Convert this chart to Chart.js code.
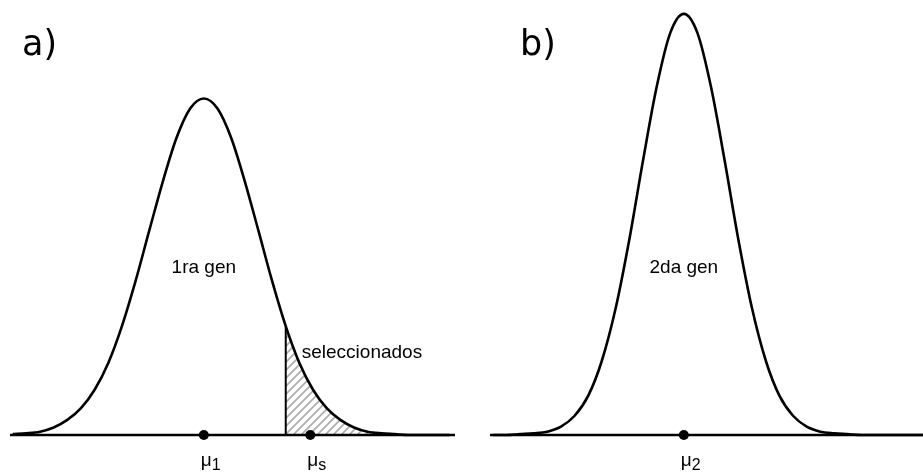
<!DOCTYPE html>
<html>
<head>
<meta charset="utf-8">
<script src="https://cdn.jsdelivr.net/npm/chart.js@4.4.1/dist/chart.umd.min.js"></script>
<style>
    html, body { margin: 0; padding: 0; background: #fff; }
    #wrap { position: relative; width: 923px; height: 473px; overflow: hidden; }
    canvas { position: absolute; top: 0; }
    #chartA { left: 0; }
    #chartB { left: 480px; }
</style>
</head>
<body>
<div id="wrap">
    <canvas id="chartA" width="461" height="473"></canvas>
    <canvas id="chartB" width="461" height="473"></canvas>
</div>
<script>
// trait value (in units of the 1st generation spread)
const xGrid = [-3.5, -3.25, -3, -2.75, -2.5, -2.25, -2, -1.75, -1.5, -1.25, -1, -0.75, -0.5, -0.25,
    0, 0.25, 0.5, 0.75, 1, 1.25, 1.5, 1.75, 2, 2.25, 2.5, 2.75, 3, 3.25, 3.5, 3.75, 4, 4.25, 4.5];

// curve heights for each generation
const gen1Density = [0.001, 0.002, 0.004, 0.009, 0.018, 0.032, 0.054, 0.086, 0.130, 0.184, 0.244, 0.303, 0.355, 0.390,
    0.402, 0.390, 0.355, 0.303, 0.244, 0.184, 0.130, 0.086, 0.054, 0.032, 0.018, 0.009, 0.004, 0.002, 0.001, 0, 0, 0, 0];
const gen2Density = [0, 0, 0.001, 0.002, 0.004, 0.010, 0.023, 0.047, 0.089, 0.151, 0.233, 0.327, 0.415, 0.480,
    0.503, 0.480, 0.415, 0.327, 0.233, 0.151, 0.089, 0.047, 0.023, 0.010, 0.004, 0.002, 0.001, 0, 0, 0, 0, 0, 0];

const selectionCutoff = 1.5;
const gen1Markers = [0, 1.95];
const gen1MarkerSubs = ["1", "s"];
const gen2Markers = [0];
const gen2MarkerSubs = ["2"];

const panelTitles = ["a)", "b)"];
const curveLabels = ["1ra gen", "2da gen"];
const selectedLabel = "seleccionados";

const X_MIN = -3.55, X_MAX = 4.6, Y_MAX = 0.5136;

function hatchPattern(ctx) {
    const c = document.createElement("canvas");
    c.width = 8; c.height = 8;
    const g = c.getContext("2d");
    g.strokeStyle = "#ababab";
    g.lineWidth = 1.6;
    g.beginPath();
    g.moveTo(0, 8); g.lineTo(8, 0);
    g.moveTo(-2, 2); g.lineTo(2, -2);
    g.moveTo(6, 10); g.lineTo(10, 6);
    g.stroke();
    return ctx.createPattern(c, "repeat");
}

const panelText = {
    id: "panelText",
    afterDatasetsDraw(chart, args, opts) {
        const ctx = chart.ctx;
        const xs = chart.scales.x;
        ctx.save();
        ctx.fillStyle = "#000";
        ctx.textBaseline = "alphabetic";

        ctx.font = "35px 'DejaVu Sans'";
        ctx.textAlign = "left";
        ctx.fillText(opts.title, opts.titleX, 55);

        ctx.font = "19px 'Liberation Sans'";
        ctx.textAlign = "center";
        ctx.fillText(opts.curveLabel, xs.getPixelForValue(0), 273);

        if (opts.sideLabel) {
            ctx.textAlign = "left";
            ctx.fillText(opts.sideLabel, xs.getPixelForValue(selectionCutoff) + 16, 358);
        }

        ctx.textAlign = "left";
        opts.markers.forEach((m, i) => {
            const px = xs.getPixelForValue(m) - 3;
            ctx.font = "19px 'Liberation Sans'";
            ctx.fillText("μ", px, 466);
            const w = ctx.measureText("μ").width;
            ctx.font = "16px 'Liberation Sans'";
            ctx.fillText(opts.subs[i], px + w, 470);
        });
        ctx.restore();
    }
};

function makePanel(id, density, markers, subs, textOpts, withSelection) {
    const canvas = document.getElementById(id);
    const ctx = canvas.getContext("2d");

    const datasets = [
        {
            data: markers.map(m => ({ x: m, y: 0 })),
            showLine: false,
            pointRadius: 5,
            pointBackgroundColor: "#000",
            pointBorderWidth: 0,
            order: 0
        },
        {
            data: xGrid.map((x, i) => ({ x: x, y: density[i] })),
            borderColor: "#000",
            borderWidth: 2.6,
            pointRadius: 0,
            cubicInterpolationMode: "monotone",
            fill: false,
            order: 1
        },
        {
            data: [{ x: X_MIN, y: 0 }, { x: X_MAX, y: 0 }],
            borderColor: "#000",
            borderWidth: 2.6,
            pointRadius: 0,
            fill: false,
            order: 1
        }
    ];

    if (withSelection) {
        const k = xGrid.indexOf(selectionCutoff);
        datasets.push({
            data: [{ x: selectionCutoff, y: 0 }, { x: selectionCutoff, y: density[k] }],
            borderColor: "#000",
            borderWidth: 2,
            pointRadius: 0,
            fill: false,
            order: 2
        });
        datasets.push({
            data: xGrid.slice(k).map((x, i) => ({ x: x, y: density[k + i] })),
            borderWidth: 0,
            borderColor: "rgba(0,0,0,0)",
            backgroundColor: hatchPattern(ctx),
            pointRadius: 0,
            cubicInterpolationMode: "monotone",
            fill: "origin",
            order: 3
        });
    }

    return new Chart(ctx, {
        type: "line",
        data: { datasets: datasets },
        options: {
            responsive: false,
            animation: false,
            devicePixelRatio: 1,
            events: [],
            clip: false,
            layout: { padding: { left: 10, right: 6, top: 0, bottom: 38 } },
            plugins: {
                legend: { display: false },
                tooltip: { enabled: false },
                panelText: Object.assign({ markers: markers, subs: subs }, textOpts)
            },
            scales: {
                x: { type: "linear", min: X_MIN, max: X_MAX, display: false },
                y: { min: 0, max: Y_MAX, display: false }
            }
        },
        plugins: [panelText]
    });
}

makePanel("chartA", gen1Density, gen1Markers, gen1MarkerSubs,
    { title: panelTitles[0], titleX: 22, curveLabel: curveLabels[0], sideLabel: selectedLabel }, true);
makePanel("chartB", gen2Density, gen2Markers, gen2MarkerSubs,
    { title: panelTitles[1], titleX: 40, curveLabel: curveLabels[1] }, false);
</script>
</body>
</html>
